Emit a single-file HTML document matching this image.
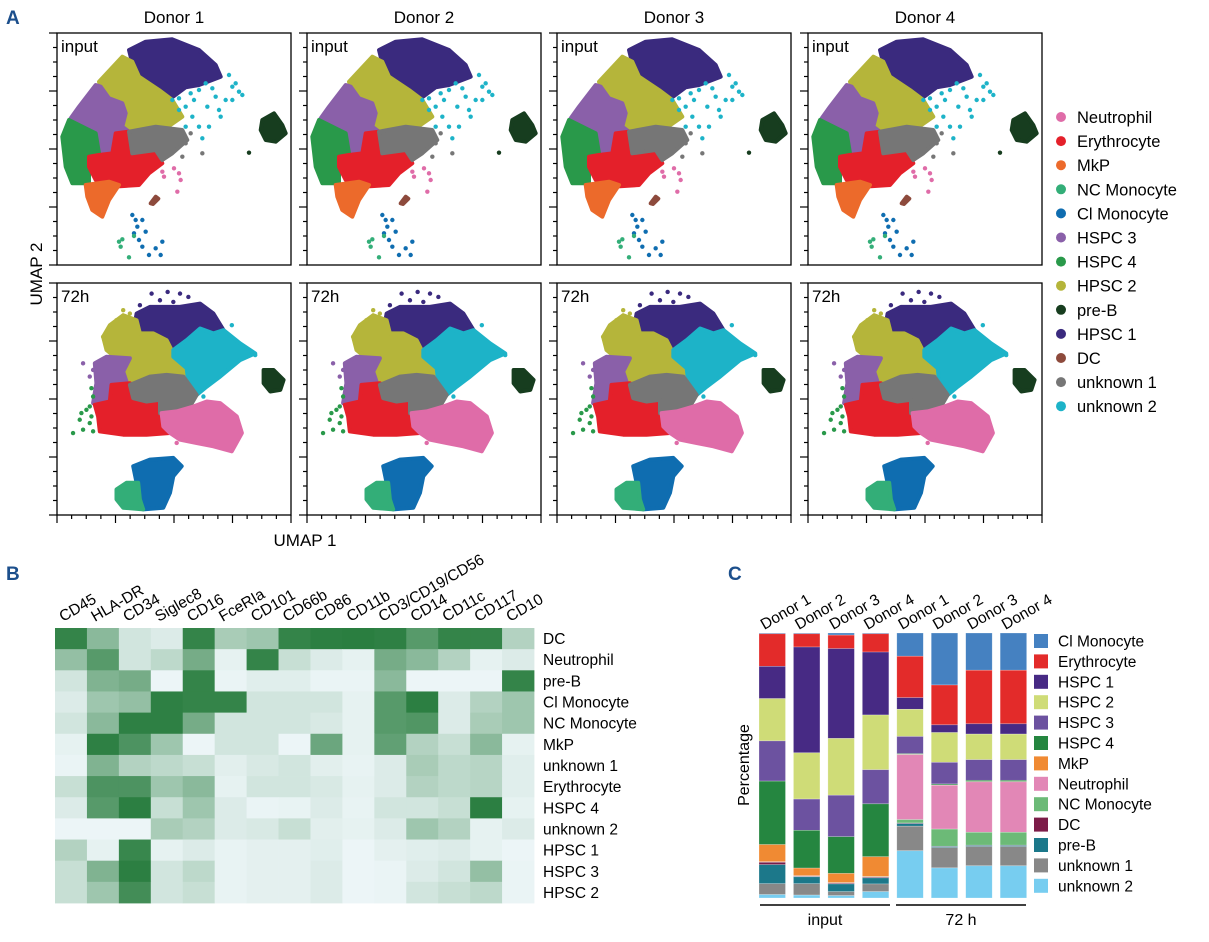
<!DOCTYPE html>
<html><head><meta charset="utf-8">
<style>
html,body{margin:0;padding:0;background:#fff;}
svg{display:block;font-family:"Liberation Sans",Arial,sans-serif;}
</style></head>
<body>
<svg id="fig" width="1209" height="942" viewBox="0 0 1209 942" xmlns="http://www.w3.org/2000/svg">
<text x="6" y="24" font-size="19" font-weight="bold" fill="#1c4f8c">A</text>
<text x="6" y="580" font-size="19" font-weight="bold" fill="#1c4f8c">B</text>
<text x="728" y="580" font-size="19" font-weight="bold" fill="#1c4f8c">C</text>
<text x="0" y="0" font-size="17" text-anchor="middle" transform="translate(42,274) rotate(-90)">UMAP 2</text>
<text x="305" y="546" font-size="17" text-anchor="middle">UMAP 1</text>
<text x="0" y="0" font-size="16" text-anchor="middle" transform="translate(749,765) rotate(-90)">Percentage</text>
<g id="umap"></g>
<g id="heat"></g>
<g id="bars"></g>
</svg>
<script>
// ---------- UMAP data ----------
const donors = ["Donor 1","Donor 2","Donor 3","Donor 4"];
const conditions = ["input","72h"];
const clusterColors = {"Neutrophil":"#df6ca8","Erythrocyte":"#e4202a","MkP":"#ec6a2b","NC Monocyte":"#33ae78","Cl Monocyte":"#0f6db0","HSPC 3":"#8a60a9","HSPC 4":"#29994a","HPSC 2":"#b5b53a","pre-B":"#173d1f","HPSC 1":"#3a2a7e","DC":"#8d4a3c","unknown 1":"#767676","unknown 2":"#1db3c8"};
const legendNames = ["Neutrophil","Erythrocyte","MkP","NC Monocyte","Cl Monocyte","HSPC 3","HSPC 4","HPSC 2","pre-B","HPSC 1","DC","unknown 1","unknown 2"];
const inputDomainX = [174,876];
const inputDomainY = [99,795];
const inputRegions = [
 ["HPSC 1",[[390,150],[440,125],[520,118],[600,150],[650,195],[665,230],[600,255],[560,262],[520,292],[480,270],[420,230],[400,190]]],
 ["HPSC 2",[[300,245],[370,170],[400,185],[420,230],[480,270],[520,300],[550,350],[500,385],[460,380],[410,395],[370,380],[380,340],[370,310],[330,295],[305,260]]],
 ["HSPC 3",[[215,355],[240,320],[290,255],[305,260],[330,295],[370,310],[380,340],[370,380],[390,395],[340,410],[330,460],[300,465],[290,420],[250,390]]],
 ["HSPC 4",[[190,410],[210,360],[250,380],[290,400],[300,460],[270,500],[270,550],[220,550],[200,500]]],
 ["Erythrocyte",[[270,470],[300,465],[340,460],[350,400],[390,395],[400,460],[470,450],[490,490],[450,520],[420,555],[340,560],[290,540],[270,500]]],
 ["unknown 1",[[390,395],[470,380],[550,390],[565,420],[520,460],[490,480],[470,450],[400,460]]],
 ["MkP",[[260,555],[330,545],[360,555],[330,600],[310,650],[280,630],[265,590]]],
 ["pre-B",[[790,360],[825,340],[850,375],[860,400],[830,425],[800,420],[785,390]]],
 ["DC",[[455,610],[470,590],[478,596],[462,612]]]
];
const inputDots = [
 ["unknown 2",[[520,300],[540,295],[560,320],[575,280],[600,270],[620,250],[640,265],[650,290],[660,330],[690,225],[700,260],[720,275],[730,285],[700,300],[680,300],[580,350],[600,380],[610,415],[630,380],[560,380],[540,330],[625,320],[710,250],[665,350],[585,300]]],
 ["unknown 1",[[560,430],[610,460],[550,470],[575,400]]],
 ["pre-B",[[750,458]]],
 ["Neutrophil",[[490,515],[540,520],[545,540],[535,575],[525,505],[495,530]]],
 ["Cl Monocyte",[[400,645],[410,660],[430,660],[415,680],[440,695],[420,720],[430,740],[450,765],[470,745],[490,725],[485,765],[405,700]]],
 ["NC Monocyte",[[360,725],[370,718],[365,740],[390,772],[405,708]]]
];
const h72DomainX = [52,752];
const h72DomainY = [38,737];
const h72Regions = [
 ["HPSC 1",[[290,130],[330,110],[420,110],[480,100],[520,130],[550,180],[520,190],[480,175],[440,210],[400,240],[380,210],[340,190],[300,190],[285,160]]],
 ["HPSC 2",[[210,165],[250,135],[290,150],[300,190],[340,190],[380,210],[400,250],[440,295],[430,320],[380,315],[340,310],[300,330],[260,335],[250,305],[270,265],[230,265],[200,240],[190,200]]],
 ["unknown 2",[[400,240],[440,210],[480,175],[520,190],[550,180],[600,220],[645,250],[600,270],[540,320],[500,350],[470,375],[445,340],[440,295],[400,260]]],
 ["HSPC 3",[[165,280],[200,260],[270,265],[250,305],[260,335],[215,345],[210,395],[160,400],[170,340]]],
 ["Erythrocyte",[[165,405],[210,395],[215,345],[270,340],[280,385],[330,395],[360,390],[365,430],[370,470],[390,490],[320,495],[250,495],[180,485],[175,440]]],
 ["unknown 1",[[270,345],[330,320],[380,315],[430,320],[470,375],[450,410],[410,425],[360,430],[360,390],[320,395],[280,385]]],
 ["Neutrophil",[[365,430],[410,425],[460,410],[500,395],[540,400],[590,440],[605,490],[575,545],[520,530],[470,520],[420,510],[390,490],[370,470]]],
 ["Cl Monocyte",[[280,590],[330,570],[400,565],[425,590],[400,620],[390,670],[370,715],[310,720],[300,690],[290,640]]],
 ["NC Monocyte",[[230,660],[260,640],[295,640],[300,690],[310,720],[250,715],[230,690]]],
 ["pre-B",[[670,300],[700,300],[730,330],[720,360],[690,365],[670,340]]]
];
const h72Dots = [
 ["HPSC 1",[[335,70],[383,65],[420,70],[445,80],[300,105],[400,95],[360,90]]],
 ["HPSC 2",[[190,200],[210,180],[230,150],[250,120],[270,130],[200,220]]],
 ["HSPC 3",[[130,280],[150,320],[160,300]]],
 ["HSPC 4",[[100,490],[130,480],[150,460],[155,440],[125,430],[150,410],[155,355],[160,380],[140,420],[160,485],[120,450]]],
 ["unknown 2",[[575,165],[645,255],[490,380]]],
 ["Neutrophil",[[410,520]]]
];
const tickMajor = [0,4,8,12,16];

// ---------- Heatmap data ----------
const markers = ["CD45","HLA-DR","CD34","Siglec8","CD16","FceRIa","CD101","CD66b","CD86","CD11b","CD3/CD19/CD56","CD14","CD11c","CD117","CD10"];
const heatRows = ["DC","Neutrophil","pre-B","Cl Monocyte","NC Monocyte","MkP","unknown 1","Erythrocyte","HSPC 4","unknown 2","HPSC 1","HSPC 3","HPSC 2"];
const rowDC = [.92,.5,.15,.1,.92,.35,.4,.92,.96,.97,.95,.75,.92,.92,.3];
const rowNeut = [.45,.75,.15,.25,.6,.05,.92,.2,.1,.05,.6,.5,.3,.05,.1];
const rowPreB = [.15,.55,.6,.02,.92,.03,.08,.08,.03,.03,.5,.02,.02,.02,.92];
const rowClMono = [.1,.4,.45,.95,.92,.92,.15,.15,.15,.05,.75,.96,.1,.3,.4];
const rowNCMono = [.15,.5,.95,.95,.6,.15,.15,.15,.12,.05,.75,.78,.1,.35,.4];
const rowMkP = [.05,.95,.8,.4,.02,.15,.15,.02,.65,.05,.7,.3,.2,.5,.05];
const rowUnk1 = [.03,.55,.3,.25,.2,.07,.12,.15,.07,.04,.1,.35,.25,.28,.08];
const rowEry = [.2,.8,.8,.4,.5,.05,.15,.15,.12,.05,.1,.3,.25,.28,.08];
const rowHSPC4 = [.1,.75,.96,.2,.4,.1,.03,.04,.1,.04,.15,.15,.2,.96,.05];
const rowUnk2 = [.02,.02,.02,.35,.3,.1,.12,.2,.07,.05,.1,.4,.3,.05,.1];
const rowHPSC1 = [.3,.05,.9,.05,.1,.04,.06,.06,.08,.02,.06,.08,.1,.05,.02];
const rowHSPC3 = [.2,.55,.96,.15,.25,.04,.06,.06,.1,.02,.03,.1,.15,.45,.03];
const rowHPSC2 = [.2,.4,.85,.15,.2,.04,.06,.06,.1,.02,.03,.15,.2,.25,.03];
const heatValues = [rowDC,rowNeut,rowPreB,rowClMono,rowNCMono,rowMkP,rowUnk1,rowEry,rowHSPC4,rowUnk2,rowHPSC1,rowHSPC3,rowHPSC2];

// ---------- Stacked bar data ----------
const barLabels = ["Donor 1","Donor 2","Donor 3","Donor 4","Donor 1","Donor 2","Donor 3","Donor 4"];
const stackNames = ["Cl Monocyte","Erythrocyte","HSPC 1","HSPC 2","HSPC 3","HSPC 4","MkP","Neutrophil","NC Monocyte","DC","pre-B","unknown 1","unknown 2"];
const stackColors = ["#4581c1","#e32b2a","#472a84","#cfdc77","#6c52a0","#258640","#f08a33","#e287b6","#6cba77","#7c1c48","#1c788a","#888888","#77cdf0"];
const valClMono = [0.3,0.3,0.8,0.3,8.8,19.7,14.1,14.1];
const valEry = [12.3,5.0,5.1,6.9,15.7,15.1,20.3,20.3];
const valHSPC1 = [12.2,40.0,34.0,23.8,4.4,2.9,3.9,3.9];
const valHSPC2 = [16.0,17.5,21.5,20.7,10.3,11.3,9.7,9.7];
const valHSPC3 = [15.2,11.8,15.7,12.9,6.5,8.2,7.8,7.8];
const valHSPC4 = [24.0,14.3,13.9,20.0,0.3,0.4,0.5,0.5];
const valMkP = [6.5,2.9,3.5,7.5,0.1,0.1,0.1,0.1];
const valNeut = [0.1,0.1,0.1,0.1,24.6,16.6,19.1,19.1];
const valNC = [0.1,0.1,0.1,0.1,1.3,6.5,4.9,4.9];
const valDC = [0.9,0.2,0.3,0.3,0.2,0.1,0.1,0.1];
const valPreB = [7.2,2.6,2.9,2.3,1.0,0.4,0.4,0.4];
const valUnk1 = [4.1,4.3,1.5,2.9,9.3,7.7,7.3,7.3];
const valUnk2 = [1.3,1.1,0.9,2.4,17.9,11.4,12.2,12.2];
const stackValues = [valClMono,valEry,valHSPC1,valHSPC2,valHSPC3,valHSPC4,valMkP,valNeut,valNC,valDC,valPreB,valUnk1,valUnk2];

const NS = "http://www.w3.org/2000/svg";
function mk(tag, attrs, parent){ const e=document.createElementNS(NS,tag); for(const k in attrs) e.setAttribute(k,attrs[k]); parent.appendChild(e); return e; }

// ---------- draw UMAP ----------
const umapG = document.getElementById("umap");
const panelX = [57,307,557,808], panelY = [33,283], PW = 234, PH = 232;
donors.forEach((d,di)=>{
  const t = mk("text",{x:panelX[di]+PW/2,y:23,"font-size":17,"text-anchor":"middle"},umapG);
  t.textContent = d;
  
  
  conditions.forEach((c,ci)=>{
    const x0 = panelX[di], y0 = panelY[ci];
    const dx = ci===0?inputDomainX:h72DomainX, dy = ci===0?inputDomainY:h72DomainY;
    const sx = v => x0 + (v-dx[0])/(dx[1]-dx[0])*PW;
    const sy = v => y0 + (v-dy[0])/(dy[1]-dy[0])*PH;
    const g = mk("g",{},umapG);
    
    
    const regions = ci===0?inputRegions:h72Regions;
    regions.forEach(r=>{
      const p = mk("polygon",{points:r[1].map(q=>sx(q[0]).toFixed(1)+","+sy(q[1]).toFixed(1)).join(" "),fill:clusterColors[r[0]],stroke:clusterColors[r[0]],"stroke-width":4,"stroke-linejoin":"round"},g);
      
      
    });
    const dots = ci===0?inputDots:h72Dots;
    dots.forEach(r=>{
      r[1].forEach(q=>{
        const c2 = mk("circle",{cx:sx(q[0]),cy:sy(q[1]),r:2.2,fill:clusterColors[r[0]]},g);
        
        
      });
    });
    const fr = mk("rect",{x:x0,y:y0,width:PW,height:PH,fill:"none",stroke:"#000","stroke-width":1.3},g);
    
    
    const lb = mk("text",{x:x0+4,y:y0+19,"font-size":17},g);
    lb.textContent = c;
    
    
    for(let i=0;i<=16;i++){
      const yy = y0 + i*PH/16, len = tickMajor.includes(i)?8:4;
      const tk = mk("line",{x1:x0-len,x2:x0,y1:yy,y2:yy,stroke:"#000","stroke-width":1.2},g);
      
      
      if(ci===1){
        const xx = x0 + i*PW/16;
        const tb = mk("line",{x1:xx,x2:xx,y1:y0+PH,y2:y0+PH+len,stroke:"#000","stroke-width":1.2},g);
        
        
      }
    }
  });
});
legendNames.forEach((n,i)=>{
  const yy = 117 + i*24.1;
  const c = mk("circle",{cx:1061,cy:yy,r:5,fill:clusterColors[n]},umapG);
  
  
  const t = mk("text",{x:1077,y:yy+6,"font-size":16.5},umapG);
  t.textContent = n;
  
  
});

// ---------- draw heatmap ----------
const heatG = document.getElementById("heat");
const hx0=55, hy0=628, cw=(534-55)/15, ch=(903-628)/13;
const lo=[240,248,251], hi=[36,122,58];
function heatColor(v){ return "rgb("+lo.map((a,i)=>Math.round(a+(hi[i]-a)*v)).join(",")+")"; }
heatValues.forEach((row,ri)=>{
  row.forEach((v,ci)=>{
    const r = mk("rect",{x:hx0+ci*cw,y:hy0+ri*ch,width:cw+0.4,height:ch+0.4,fill:heatColor(v)},heatG);
    
    
  });
  const t = mk("text",{x:543,y:hy0+ri*ch+ch/2+5.5,"font-size":15.5},heatG);
  t.textContent = heatRows[ri];
  
  
});
markers.forEach((m,ci)=>{
  const cx = hx0+ci*cw+cw/2-8;
  const t = mk("text",{x:0,y:0,"font-size":15.5,transform:"translate("+cx+",622) rotate(-30)"},heatG);
  t.textContent = m;
  
  
});

// ---------- draw stacked bars ----------
const barG = document.getElementById("bars");
const bx0=759, bstep=34.45, bw=26.5, byTop=633, byBot=898;
const ys = v => byBot - v/100*(byBot-byTop);
barLabels.forEach((lab,bi)=>{
  let total = 0; stackValues.forEach(s=>total+=s[bi]);
  let cum = 100;
  stackValues.forEach((s,si)=>{
    const v = s[bi]/total*100;
    const r = mk("rect",{x:bx0+bi*bstep,y:ys(cum),width:bw,height:ys(cum-v)-ys(cum),fill:stackColors[si],stroke:"#fff","stroke-width":0.6,"stroke-opacity":0.4},barG);
    
    
    cum -= v;
  });
  const cx = bx0+bi*bstep+bw/2-8;
  const t = mk("text",{x:0,y:0,"font-size":15.5,transform:"translate("+cx+",630) rotate(-30)"},barG);
  t.textContent = lab;
  
  
});
[["input",760,890],["72 h",896,1026]].forEach(g=>{
  const l = mk("line",{x1:g[1],x2:g[2],y1:905,y2:905,stroke:"#000","stroke-width":1.5},barG);
  
  
  const t = mk("text",{x:(g[1]+g[2])/2,y:925,"font-size":16,"text-anchor":"middle"},barG);
  t.textContent = g[0];
  
  
});
const legNamesC = ["Cl Monocyte","Erythrocyte","HSPC 1","HSPC 2","HSPC 3","HSPC 4","MkP","Neutrophil","NC Monocyte","DC","pre-B","unknown 1","unknown 2"];
legNamesC.forEach((n,i)=>{
  const yy = 641 + i*20.4;
  const r = mk("rect",{x:1034,y:yy-7,width:14,height:14,fill:stackColors[i]},barG);
  
  
  const t = mk("text",{x:1058,y:yy+5.5,"font-size":15.5},barG);
  t.textContent = n;
  
  
});
</script>
</body></html>
